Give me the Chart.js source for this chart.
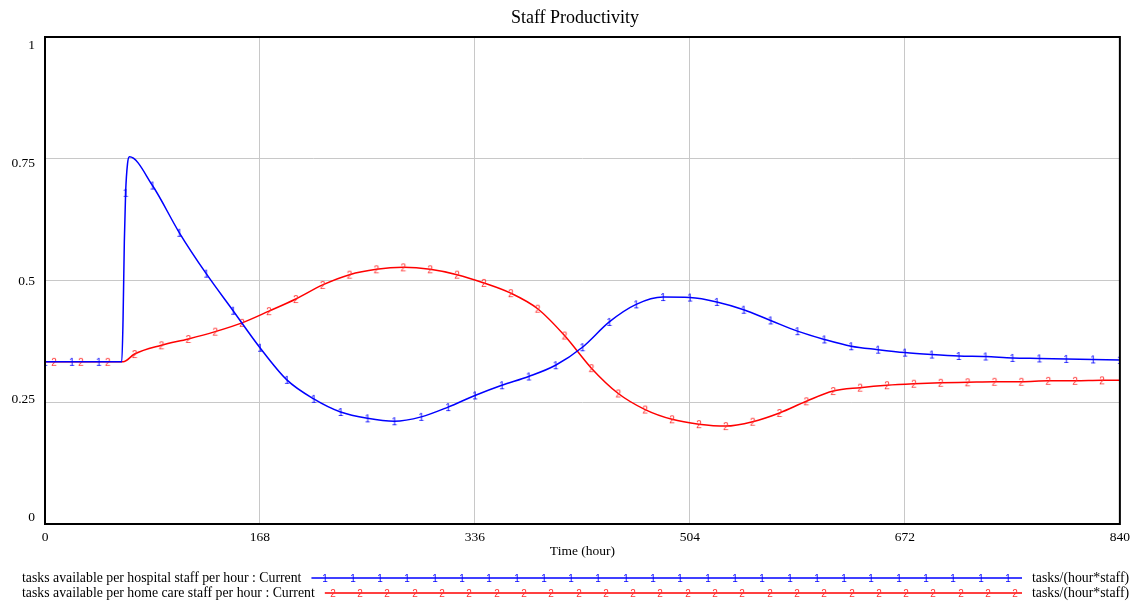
<!DOCTYPE html>
<html>
<head>
<meta charset="utf-8">
<title>Staff Productivity</title>
<script src="https://cdn.jsdelivr.net/npm/chart.js@4/dist/chart.umd.min.js"></script>
<style>
  html, body { margin: 0; padding: 0; background: #fff; }
  #wrap { width: 1135px; height: 603px; }
</style>
</head>
<body>
<div id="wrap"><canvas id="chart" width="1135" height="603"></canvas></div>
<script>
const chartTitle = 'Staff Productivity';
const xTitle = 'Time (hour)';
const units = 'tasks/(hour*staff)';
const xTicks = [0, 168, 336, 504, 672, 840];
const yTicks = [0, 0.25, 0.5, 0.75, 1];

// series 1 - hospital staff (marker "1" every 21 hours)
const hospitalLabel = 'tasks available per hospital staff per hour : Current';
const hospitalHours = [0, 21, 42, 60, 61, 62, 63, 64.5, 66, 84, 105, 126, 147, 168, 189, 210, 231, 252, 273,
  294, 315, 336, 357, 378, 399, 420, 441, 462, 483, 504, 525, 546, 567, 588, 609, 630, 651, 672, 693, 714,
  735, 756, 777, 798, 819, 840];
const hospital = [0.333, 0.333, 0.333, 0.333, 0.42, 0.58, 0.68, 0.74, 0.754, 0.695, 0.598, 0.514, 0.438, 0.362,
  0.296, 0.257, 0.230, 0.217, 0.211, 0.220, 0.240, 0.264, 0.285, 0.303, 0.326, 0.363, 0.415, 0.451, 0.466,
  0.465, 0.456, 0.440, 0.418, 0.396, 0.379, 0.365, 0.358, 0.352, 0.348, 0.345, 0.344, 0.341, 0.340, 0.339,
  0.338, 0.337];

// series 2 - home care staff (marker "2")
const homeCareLabel = 'tasks available per home care staff per hour : Current';
const homeCareHours = [0, 7, 28, 49, 61, 70, 91, 112, 133, 154, 175, 196, 217, 238, 259, 280, 301, 322, 343,
  364, 385, 406, 427, 448, 469, 490, 511, 532, 553, 574, 595, 616, 637, 658, 679, 700, 721, 742, 763, 784,
  805, 826, 840];
const homeCare = [0.333, 0.333, 0.333, 0.333, 0.333, 0.349, 0.367, 0.380, 0.395, 0.413, 0.437, 0.462, 0.491,
  0.512, 0.523, 0.527, 0.523, 0.512, 0.495, 0.474, 0.442, 0.387, 0.320, 0.268, 0.235, 0.215, 0.205, 0.201,
  0.210, 0.228, 0.252, 0.273, 0.280, 0.285, 0.288, 0.290, 0.291, 0.292, 0.292, 0.294, 0.294, 0.295, 0.295];

const SERIF = '"Liberation Serif", "Times New Roman", serif';

// little number glyphs used as point markers
function glyph(ch, color) {
  const c = document.createElement('canvas');
  c.width = 10;
  c.height = 12;
  const g = c.getContext('2d');
  g.font = '10px "Liberation Sans", Arial, sans-serif';
  g.fillStyle = color;
  g.textAlign = 'center';
  g.textBaseline = 'middle';
  g.fillText(ch, 5, 7);
  return c;
}

const frame = {
  id: 'frame',
  afterDraw(chart) {
    const { ctx, chartArea: a, scales: { y } } = chart;
    ctx.save();
    ctx.strokeStyle = '#000';
    ctx.lineWidth = 2;
    ctx.strokeRect(a.left, a.top, a.right - a.left, a.bottom - a.top);

    ctx.fillStyle = '#000';
    ctx.font = '18px ' + SERIF;
    ctx.textAlign = 'center';
    ctx.textBaseline = 'middle';
    ctx.fillText(chartTitle, 575, 18);

    // y labels sit a bit inside the frame, like the original
    ctx.font = '13.5px ' + SERIF;
    ctx.textAlign = 'right';
    yTicks.forEach(v => {
      const p = y.getPixelForValue(v);
      const f = (p - a.top) / (a.bottom - a.top);
      ctx.fillText(String(v), 35, p + 8 - 15 * f);
    });

    // legend rows
    const rows = [{ y: 578, first: 14 }, { y: 593, first: 8 }];
    chart.data.datasets.forEach((ds, i) => {
      const r = rows[i];
      ctx.font = '13.8px ' + SERIF;
      ctx.textAlign = 'left';
      ctx.fillStyle = '#000';
      ctx.fillText(ds.label, 22, r.y);
      const x0 = 22 + ctx.measureText(ds.label).width + 10;
      const x1 = 1022;
      ctx.strokeStyle = ds.borderColor;
      ctx.lineWidth = 1.5;
      ctx.beginPath();
      ctx.moveTo(x0, r.y);
      ctx.lineTo(x1, r.y);
      ctx.stroke();
      const mark = ds.pointStyle;
      for (let x = x0 + r.first; x <= x1 - 5; x += 27.3) {
        ctx.drawImage(mark, Math.round(x - mark.width / 2), Math.round(r.y - mark.height / 2));
      }
      ctx.fillText(units, 1032, r.y);
    });
    ctx.restore();
  }
};

Chart.defaults.font.family = SERIF;
Chart.defaults.color = '#000';

new Chart(document.getElementById('chart'), {
  type: 'line',
  data: {
    datasets: [{
      label: hospitalLabel,
      data: hospitalHours.map((h, i) => ({ x: h, y: hospital[i] })),
      borderColor: '#0000ff',
      borderWidth: 1.5,
      pointStyle: glyph('1', '#0000ff'),
      pointRadius: c => (c.raw && c.raw.x % 21 === 0) ? 4 : 0,
      cubicInterpolationMode: 'monotone'
    }, {
      label: homeCareLabel,
      data: homeCareHours.map((h, i) => ({ x: h, y: homeCare[i] })),
      borderColor: '#ff0000',
      borderWidth: 1.5,
      pointStyle: glyph('2', '#ff3030'),
      pointRadius: c => (c.raw && c.raw.x % 21 === 7) ? 4 : 0,
      cubicInterpolationMode: 'monotone'
    }]
  },
  options: {
    responsive: false,
    animation: false,
    events: [],
    layout: { padding: { top: 37, right: 13, bottom: 39, left: 0 } },
    plugins: { legend: { display: false }, title: { display: false }, tooltip: { enabled: false } },
    scales: {
      x: {
        type: 'linear',
        min: 0,
        max: 840,
        afterBuildTicks: s => { s.ticks = xTicks.map(v => ({ value: v })); },
        afterFit: s => { s.height = 40; },
        grid: { color: '#c8c8c8', lineWidth: 1, drawTicks: false },
        border: { display: false },
        ticks: { padding: 5, maxRotation: 0, autoSkip: false, font: { size: 13.5 } },
        title: { display: true, text: xTitle, font: { size: 13.5 }, padding: { top: 0, bottom: 4 } }
      },
      y: {
        min: 0,
        max: 1,
        afterBuildTicks: s => { s.ticks = yTicks.map(v => ({ value: v })); },
        afterFit: s => { s.width = 45; },
        grid: { color: '#c8c8c8', lineWidth: 1, drawTicks: false },
        border: { display: false },
        ticks: { display: false }
      }
    }
  },
  plugins: [frame]
});
</script>
</body>
</html>
